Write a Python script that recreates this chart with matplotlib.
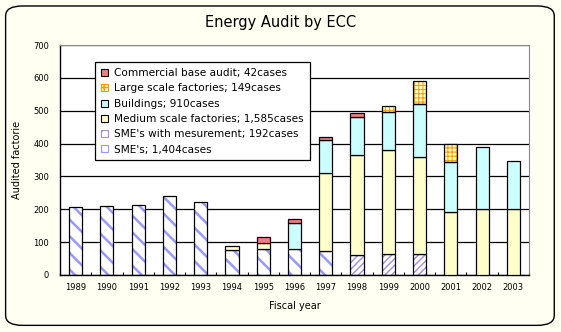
import numpy as np
import matplotlib as mpl
import matplotlib.pyplot as plt
from matplotlib.patches import FancyBboxPatch, Patch

years = ['1989', '1990', '1991', '1992', '1993', '1994', '1995', '1996',
         '1997', '1998', '1999', '2000', '2001', '2002', '2003']

sme        = [206, 210, 212, 241, 222, 75, 78, 78, 73, 0, 0, 0, 0, 0, 0]
sme_meas   = [0, 0, 0, 0, 0, 0, 0, 0, 0, 60, 63, 63, 0, 0, 0]
medium     = [0, 0, 0, 0, 0, 13, 20, 0, 237, 305, 317, 296, 191, 200, 200]
buildings  = [0, 0, 0, 0, 0, 0, 0, 80, 101, 116, 117, 161, 152, 189, 146]
large      = [0, 0, 0, 0, 0, 0, 0, 0, 0, 0, 17, 70, 57, 0, 0]
commercial = [0, 0, 0, 0, 0, 0, 17, 13, 9, 12, 0, 0, 0, 0, 0]

labels = ["SME's; 1,404cases",
          "SME's with mesurement; 192cases",
          "Medium scale factories; 1,585cases",
          "Buildings; 910cases",
          "Large scale factories; 149cases",
          "Commercial base audit; 42cases"]

# (face, hatch, hatch colour, hatch width)
styles = [('white', '\\\\', '#9999ff', 1.8),
          ('white', '/////', '#a58ee0', 1.0),
          ('#ffffcc', None, None, None),
          ('#ccffff', None, None, None),
          ('#ffffcc', '++++', '#ff9900', 0.7),
          ('#ee8080', None, None, None)]

series = [sme, sme_meas, medium, buildings, large, commercial]

bg = '#fffff2'
fig = plt.figure(figsize=(5.61, 3.32), dpi=100, facecolor=bg)
frame = FancyBboxPatch((0.01, 0.02), 0.978, 0.962, boxstyle='round,pad=0,rounding_size=0.03',
                       transform=fig.transFigure, facecolor=bg, edgecolor='black',
                       linewidth=1.0, zorder=-10)
fig.add_artist(frame)

ax = fig.add_axes([0.107, 0.172, 0.836, 0.692])
ax.set_facecolor('white')

x = np.arange(len(years))
w = 0.42
bottom = np.zeros(len(years))
handles = []
for vals, (fc, hatch, hc, hw), lab in zip(series, styles, labels):
    vals = np.array(vals, dtype=float)
    m = vals > 0
    if hatch:
        with mpl.rc_context({'hatch.linewidth': hw}):
            bars = ax.bar(x[m], vals[m], w, bottom=bottom[m], color=fc, edgecolor=hc,
                          hatch=hatch, linewidth=0, zorder=2)
            h = Patch(facecolor=fc, edgecolor=hc, hatch=hatch[:2], linewidth=0.8)
        for b in bars:
            if hasattr(b, 'set_hatch_linewidth'):
                b.set_hatch_linewidth(hw)
        ax.bar(x[m], vals[m], w, bottom=bottom[m], fill=False, edgecolor='black',
               linewidth=0.9, zorder=3)
    else:
        ax.bar(x[m], vals[m], w, bottom=bottom[m], color=fc, edgecolor='black',
               linewidth=0.9, zorder=3)
        h = Patch(facecolor=fc, edgecolor='black', linewidth=0.8)
    handles.append(h)
    bottom += vals

ax.set_xlim(-0.5, len(years) - 0.5)
ax.set_ylim(0, 700)
ax.set_yticks(np.arange(0, 701, 100))
ax.yaxis.grid(True, color='black', linewidth=0.9, zorder=0)
ax.set_axisbelow(True)
ax.tick_params(axis='y', length=0, labelsize=6, pad=8)
ax.set_xticks(x)
ax.set_xticklabels(years)
ax.set_xticks(np.arange(-0.5, len(years), 1), minor=True)
ax.tick_params(axis='x', which='major', length=0, labelsize=6, pad=6)
ax.tick_params(axis='x', which='minor', direction='in', length=2, width=0.8)
for s in ['top', 'right']:
    ax.spines[s].set_color('#888888')
for s in ['left', 'bottom']:
    ax.spines[s].set_color('black')
    ax.spines[s].set_linewidth(1.0)

ax.set_xlabel('Fiscal year', fontsize=7, labelpad=6)
ax.set_ylabel('Audited factorie', fontsize=7, labelpad=8)

leg = ax.legend(handles[::-1], labels[::-1], loc='upper left', bbox_to_anchor=(0.075, 0.925),
                fontsize=7.6, handlelength=0.65, handleheight=0.65, handletextpad=0.6,
                labelspacing=0.5, borderpad=0.55, borderaxespad=0, fancybox=False,
                framealpha=1, edgecolor='black')
leg.get_frame().set_linewidth(0.9)
leg.set_zorder(5)

fig.text(0.5, 0.932, 'Energy Audit by ECC', ha='center', va='center', fontsize=10.5)

plt.savefig('out.png', dpi=100, facecolor=bg)
